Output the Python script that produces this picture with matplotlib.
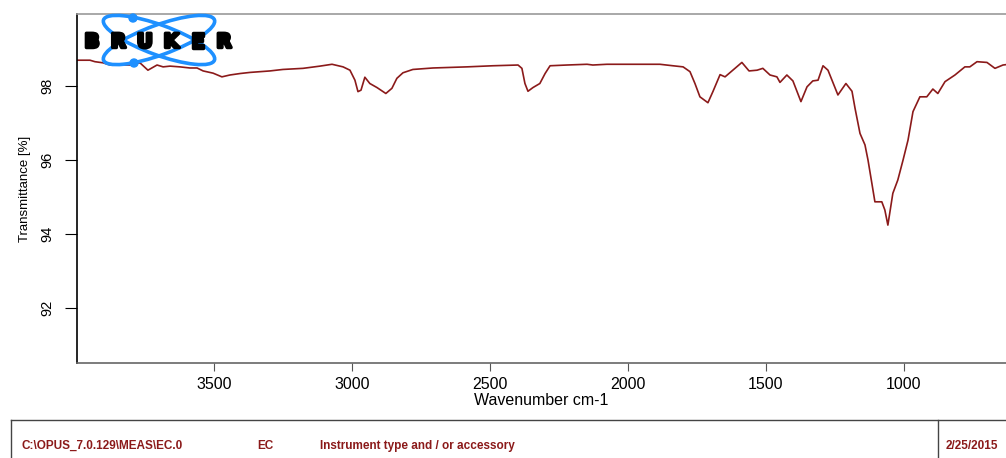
"""Bruker OPUS style IR spectrum (transmittance vs wavenumber) with logo and footer."""
import matplotlib
matplotlib.use("Agg")
import matplotlib.pyplot as plt
from matplotlib.patches import Ellipse, Circle
import matplotlib.patheffects as pe

plt.rcParams["font.family"] = ["Liberation Sans", "DejaVu Sans"]

# spectrum values
wavenumber = [3996, 3949, 3931, 3902, 3876, 3804, 3768, 3739, 3706, 3684, 3659, 3623,
              3587, 3561, 3539, 3503, 3471, 3442, 3405, 3369, 3297, 3250, 3177, 3116,
              3072, 3032, 3007, 2989, 2978, 2967, 2953, 2935, 2909, 2877, 2855, 2837,
              2815, 2779, 2706, 2583, 2489, 2398, 2384, 2373, 2362, 2344, 2319, 2300,
              2282, 2221, 2148, 2127, 2076, 1956, 1884, 1837, 1800, 1775, 1757, 1739,
              1710, 1692, 1666, 1648, 1612, 1587, 1561, 1532, 1511, 1485, 1460, 1449,
              1424, 1402, 1373, 1351, 1330, 1311, 1293, 1275, 1239, 1210, 1188, 1177,
              1159, 1141, 1130, 1116, 1105, 1080, 1069, 1058, 1040, 1022, 1003, 985,
              967, 942, 917, 895, 877, 851, 815, 779, 761, 735, 699, 670, 641, 620]
transmittance = [98.70, 98.70, 98.66, 98.63, 98.57, 98.57, 98.63, 98.43, 98.57, 98.52,
                 98.54, 98.52, 98.49, 98.49, 98.41, 98.35, 98.25, 98.30, 98.34, 98.37,
                 98.41, 98.45, 98.48, 98.54, 98.59, 98.52, 98.43, 98.16, 97.85, 97.89,
                 98.24, 98.07, 97.96, 97.80, 97.94, 98.21, 98.36, 98.45, 98.49, 98.52,
                 98.55, 98.57, 98.48, 98.07, 97.86, 97.96, 98.07, 98.34, 98.55, 98.57,
                 98.59, 98.57, 98.59, 98.59, 98.59, 98.55, 98.52, 98.39, 98.07, 97.71,
                 97.55, 97.85, 98.31, 98.25, 98.48, 98.64, 98.41, 98.43, 98.48, 98.30,
                 98.25, 98.10, 98.30, 98.14, 97.58, 97.98, 98.14, 98.16, 98.55, 98.43,
                 97.76, 98.07, 97.86, 97.40, 96.72, 96.41, 96.00, 95.37, 94.87, 94.87,
                 94.65, 94.24, 95.10, 95.46, 96.00, 96.54, 97.31, 97.71, 97.71, 97.92,
                 97.80, 98.12, 98.30, 98.52, 98.52, 98.66, 98.64, 98.48, 98.57, 98.59]

x_ticks = [3500, 3000, 2500, 2000, 1500, 1000]
y_ticks = [92, 94, 96, 98]
footer = ["C:\\OPUS_7.0.129\\MEAS\\EC.0", "EC", "Instrument type and / or accessory", "2/25/2015"]

RED = "#8b1a1a"
W, H = 1006, 458

fig = plt.figure(figsize=(W / 100, H / 100), dpi=100)
ax = fig.add_axes([77 / W, 1 - 363 / H, (W - 77) / W, (363 - 14) / H])
ax.plot(wavenumber, transmittance, color=RED, lw=1.2)
ax.set_xlim(3996, 630)
ax.set_ylim(90.51, 99.95)
ax.set_xticks(x_ticks)
ax.set_yticks(y_ticks)
ax.tick_params(axis="y", length=9, labelsize=10.5, labelrotation=90, pad=7)
ax.tick_params(axis="x", length=6, labelsize=11.5, pad=4, color="#555555")
for lab in ax.get_yticklabels():
    lab.set_va("center")
ax.spines["right"].set_visible(False)
ax.spines["top"].set_color("#999999")
ax.spines["bottom"].set_color("#666666")
ax.spines["left"].set_color("black")
for s in ax.spines.values():
    s.set_linewidth(1.2)
ax.set_xlabel("Wavenumber cm-1", fontsize=11.5, labelpad=1)
ax.set_ylabel("Transmittance [%]", fontsize=9.5, labelpad=7)

# overlay in pixel coordinates for logo and footer
ov = fig.add_axes([0, 0, 1, 1], zorder=5)
ov.set_xlim(0, W)
ov.set_ylim(H, 0)
ov.axis("off")
ov.patch.set_alpha(0)

blue = "#1e90ff"
for ang in (20, -20):
    ov.add_patch(Ellipse((159, 40), 118, 30, angle=ang, fill=False, ec=blue, lw=2.6))
ov.add_patch(Circle((133, 18), 4, color=blue))
ov.add_patch(Circle((134, 63), 4, color=blue))
for i, ch in enumerate("BRUKER"):
    ov.text(92 + i * 26.4, 42, ch, fontsize=14, fontweight="black",
            family="DejaVu Sans", ha="center", va="center", color="black",
            path_effects=[pe.withStroke(linewidth=2.5, foreground="black")])

# footer box
ov.plot([11, W], [420, 420], color="#444444", lw=1)
ov.plot([11, 11], [420, H], color="#444444", lw=1)
ov.plot([938, 938], [420, H], color="#444444", lw=1)
for xpos, txt in zip([22, 257, 320, 946], footer):
    ov.text(xpos, 446, txt, fontsize=8.5, fontweight="bold", color=RED,
            ha="left", va="center")

fig.savefig("out.png", dpi=100)
